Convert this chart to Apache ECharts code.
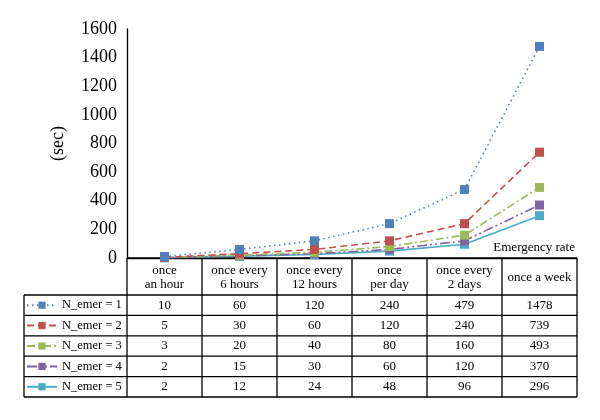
<!DOCTYPE html>
<html><head><meta charset="utf-8">
<script src="https://cdn.jsdelivr.net/npm/echarts@6/dist/echarts.min.js"></script>
<style>html,body{margin:0;padding:0;background:#fff}#c{width:600px;height:420px}</style>
</head><body><div id="c"></div>
<script>
const categories = ['once\nan hour','once every\n6 hours','once every\n12 hours','once\nper day','once every\n2 days','once a week'];
const seriesNames = ['N_emer = 1','N_emer = 2','N_emer = 3','N_emer = 4','N_emer = 5'];
const emer1 = [10, 60, 120, 240, 479, 1478];
const emer2 = [5, 30, 60, 120, 240, 739];
const emer3 = [3, 20, 40, 80, 160, 493];
const emer4 = [2, 15, 30, 60, 120, 370];
const emer5 = [2, 12, 24, 48, 96, 296];
const yTicks = [0, 200, 400, 600, 800, 1000, 1200, 1400, 1600];
const allData = [emer1, emer2, emer3, emer4, emer5];

const colors = ['#4F81BD','#C0504D','#9BBB59','#8064A2','#4BACC6'];
const dashes = [[1.5,3.5],[7,4],[8,3,2,3],[10,3,2,3,2,3],'solid'];
const FONT = "'Liberation Serif', 'DejaVu Serif', serif";

const headerH = 37, rowH = 20.4;
const gridTop = 29, gridBottom = 162;
const yZero = 420 - gridBottom;

const chart = echarts.init(document.getElementById('c'), null, {renderer:'canvas'});
chart.setOption({
  animation: false,
  textStyle: {fontFamily: FONT, color: '#000'},
  grid: {left: 127, right: 23, top: gridTop, bottom: gridBottom},
  legend: seriesNames.map((n, i) => ({
    orient: 'vertical', left: 26, top: yZero + headerH + rowH * i + rowH/2 - 7,
    padding: 0, itemWidth: 30, itemHeight: 9, itemGap: 0,
    textStyle: {fontFamily: FONT, fontSize: 12.5, color: '#000', lineHeight: 14, height: 14},
    data: [n]
  })),
  xAxis: {
    type: 'category', data: categories, boundaryGap: true,
    axisLine: {lineStyle: {color: '#000', width: 1.3}},
    axisTick: {show: false}, axisLabel: {show: false}, splitLine: {show: false}
  },
  yAxis: {
    type: 'value', min: yTicks[0], max: yTicks[yTicks.length-1], interval: 200,
    name: '(sec)', nameLocation: 'middle', nameGap: 60, nameRotate: 90,
    nameTextStyle: {fontFamily: FONT, fontSize: 18, color: '#000'},
    axisLine: {show: true, lineStyle: {color: '#000', width: 1.3}},
    axisTick: {show: false}, splitLine: {show: false},
    axisLabel: {fontFamily: FONT, fontSize: 18, color: '#000', margin: 10, formatter: v => String(v)}
  },
  series: allData.map((d, i) => ({
    name: seriesNames[i], type: 'line', data: d,
    symbol: 'rect', symbolSize: 9,
    itemStyle: {color: colors[i]},
    lineStyle: {color: colors[i], width: 1.6, type: dashes[i]},
    z: 10 - i
  }))
});

// Data table built from the axis scales
const cx = categories.map((c, i) => chart.convertToPixel({xAxisIndex: 0}, i));
const band = cx[1] - cx[0];
const y0 = chart.convertToPixel({yAxisIndex: 0}, 0);
const legendLeft = 24;
const leftX = cx[0] - band/2, rightX = cx[cx.length-1] + band/2;
const bottomY = y0 + headerH + rowH * allData.length;
const g = [];
const ls = {stroke: '#000', lineWidth: 1.3};
g.push({type:'line', shape:{x1:leftX, y1:y0, x2:rightX, y2:y0}, style: ls});
for (let r = 0; r <= allData.length; r++) {
  const y = y0 + headerH + rowH * r;
  g.push({type:'line', shape:{x1:legendLeft, y1:y, x2:rightX, y2:y}, style: ls});
}
g.push({type:'line', shape:{x1:legendLeft, y1:y0+headerH, x2:legendLeft, y2:bottomY}, style: ls});
for (let i = 0; i <= categories.length; i++) {
  const x = leftX + band * i;
  g.push({type:'line', shape:{x1:x, y1:y0, x2:x, y2:bottomY}, style: ls});
}
categories.forEach((c, i) => {
  g.push({type:'text', x: cx[i], y: y0 + headerH/2 + 1.5, style:{text: c, fill:'#000', font: '13px ' + FONT, align:'center', verticalAlign:'middle', lineHeight: 14}});
  allData.forEach((d, r) => {
    g.push({type:'text', x: cx[i], y: y0 + headerH + rowH*r + rowH/2, style:{text: String(d[i]), fill:'#000', font: '13px ' + FONT, align:'center', verticalAlign:'middle'}});
  });
});
g.push({type:'text', x: rightX - 2, y: y0 - 10, style:{text:'Emergency rate', fill:'#000', font:'13px ' + FONT, align:'right', verticalAlign:'middle'}});
chart.setOption({graphic: g});
</script></body></html>
